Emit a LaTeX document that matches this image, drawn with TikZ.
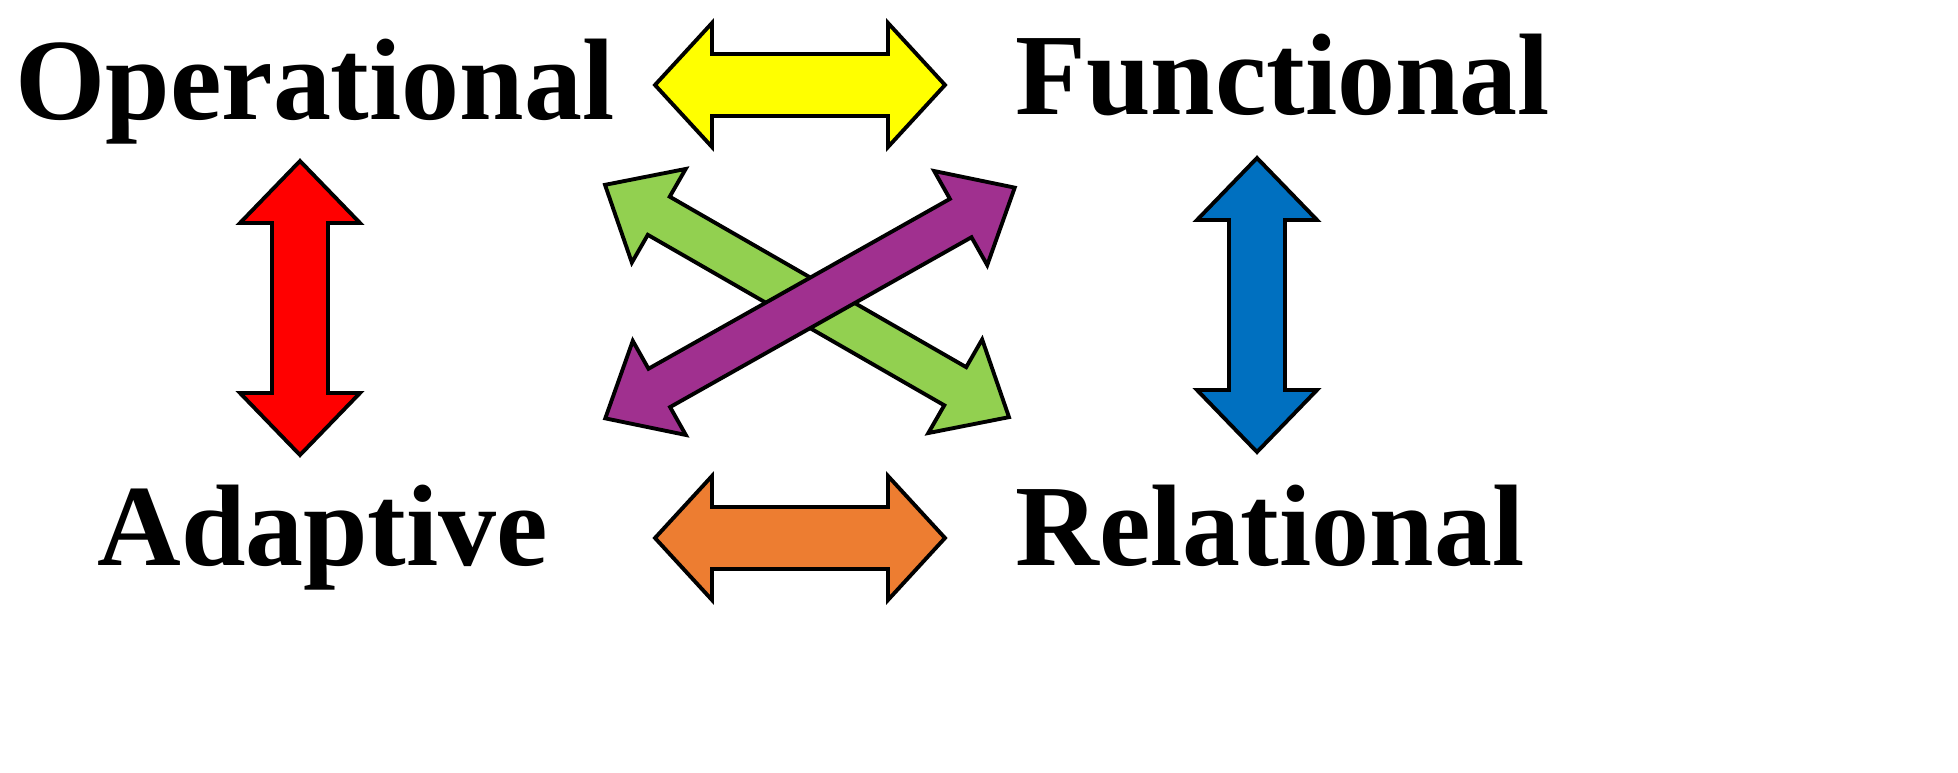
\documentclass[tikz,border=0pt]{standalone}
\usepackage{fontspec}
\setmainfont{Liberation Serif}
\definecolor{cyel}{HTML}{FFFF00}
\definecolor{cora}{HTML}{ED7D31}
\definecolor{cred}{HTML}{FF0000}
\definecolor{cblu}{HTML}{0070C0}
\definecolor{cgre}{HTML}{92D050}
\definecolor{cpur}{HTML}{A0308F}
\newcommand\dbarrow[8]{% color, x, y, angle, L, H, S, h
\draw[arr, fill=#1, shift={(#2,#3)}, rotate=#4]
 (-#5,0) -- (-#5+#8,#6) -- (-#5+#8,#7) -- (#5-#8,#7) -- (#5-#8,#6) -- (#5,0)
 -- (#5-#8,-#6) -- (#5-#8,-#7) -- (-#5+#8,-#7) -- (-#5+#8,-#6) -- cycle;}
\begin{document}
\begin{tikzpicture}[x=0.02cm,y=0.02cm,
 arr/.style={draw=black,line width=2.2pt,line join=miter},
 lab/.style={anchor=base west,inner sep=0pt,font=\fontsize{66}{70}\selectfont\bfseries}]
\useasboundingbox (0,0) rectangle (1958,772);
\fill[white] (0,0) rectangle (1958,772);
\dbarrow{cyel}{800}{687}{0}{145}{62}{31}{57}
\dbarrow{cora}{800}{234}{0}{145}{62}{31}{57}
\dbarrow{cred}{300}{464}{90}{147}{60}{28}{62}
\dbarrow{cblu}{1257}{467}{90}{147}{60}{28}{62}
\dbarrow{cgre}{807}{471}{-29.9}{233}{54}{22}{62}
\dbarrow{cpur}{810}{469}{29.4}{235}{54}{22}{62}
\node[lab] (op) at (15,652) {Operational};
\node[lab] (fu) at (1015,657) {Functional};
\node[lab] (ad) at (97,207) {Adaptive};
\node[lab] (re) at (1015,207) {Relational};
\end{tikzpicture}
\end{document}
